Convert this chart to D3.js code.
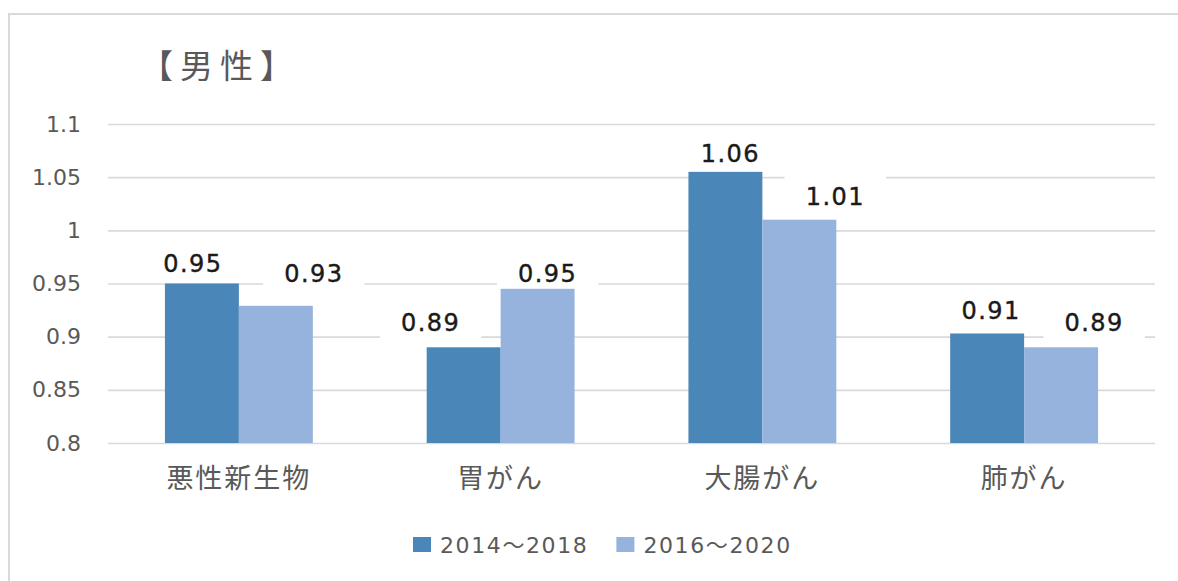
<!DOCTYPE html>
<html>
<head>
<meta charset="utf-8">
<script src="https://cdn.jsdelivr.net/npm/d3@7"></script>
<style>
  html, body { margin: 0; padding: 0; background: #fff; }
</style>
</head>
<body>
<div id="chart"></div>
<script>
const title = "【男性】";
const categories = ["悪性新生物", "胃がん", "大腸がん", "肺がん"];
const seriesNames = ["2014～2018", "2016～2020"];
const values2014 = [0.95, 0.89, 1.055, 0.903];
const values2016 = [0.929, 0.945, 1.01, 0.89];
const labels2014 = ["0.95", "0.89", "1.06", "0.91"];
const labels2016 = ["0.93", "0.95", "1.01", "0.89"];
const tickValues = [0.8, 0.85, 0.9, 0.95, 1, 1.05, 1.1];
const tickLabels = ["0.8", "0.85", "0.9", "0.95", "1", "1.05", "1.1"];

// labels were hand-moved in the original, nudge them the same way (px)
const labelDx = [[-9, -33, 5, 4], [38, 10, 36, 33]];
const labelGap = [[12, 16, 10, 14], [24, 7, 15, 16]];

const colors = ["#4a86b8", "#95b3dc"];
const W = 1178, H = 581;
const margin = { top: 124, right: 23, bottom: 138, left: 108 };
const width = W - margin.left - margin.right;
const height = H - margin.top - margin.bottom;

const svg = d3.select("#chart").append("svg")
    .attr("width", W)
    .attr("height", H)
    .style("display", "block");

svg.append("rect").attr("width", W).attr("height", H).attr("fill", "#fff");

// frame of the chart area
svg.append("path")
    .attr("d", `M9,${H} L9,14 L${W},14`)
    .attr("fill", "none")
    .attr("stroke", "#d9d9d9")
    .attr("stroke-width", 2);

svg.append("text")
    .attr("x", 140)
    .attr("y", 78)
    .style("font-family", "'Noto Sans CJK JP', sans-serif")
    .style("font-size", "33px")
    .style("letter-spacing", "7px")
    .style("fill", "#595959")
    .text(title);

const g = svg.append("g").attr("transform", `translate(${margin.left},${margin.top})`);

const x0 = d3.scaleBand()
    .domain(categories)
    .range([0, width])
    .paddingInner(0.435)
    .paddingOuter(0.2175);

const x1 = d3.scaleBand()
    .domain([0, 1])
    .range([0, x0.bandwidth()]);

const y = d3.scaleLinear()
    .domain([0.8, 1.1])
    .range([height, 0]);

// gridlines + tick labels
const yAxis = g.append("g")
    .call(d3.axisLeft(y).tickValues(tickValues)
        .tickSize(-width).tickPadding(27)
        .tickFormat((d, i) => tickLabels[i]));
yAxis.select(".domain").remove();
yAxis.selectAll(".tick line").attr("stroke", "#d9d9d9").attr("stroke-width", 1.6);
yAxis.selectAll(".tick text")
    .style("font-family", "'DejaVu Sans', sans-serif")
    .style("font-size", "22px")
    .style("fill", "#595959");

const xAxis = g.append("g")
    .attr("transform", `translate(0,${height})`)
    .call(d3.axisBottom(x0).tickSize(0).tickPadding(26));
xAxis.select(".domain").remove();
xAxis.selectAll(".tick text")
    .style("font-family", "'Noto Sans CJK JP', sans-serif")
    .style("font-size", "27px")
    .style("letter-spacing", "2px")
    .style("fill", "#595959");

const series = [values2014, values2016];
const seriesLabels = [labels2014, labels2016];
const rows = [];
series.forEach((vals, s) => {
    vals.forEach((v, i) => {
        rows.push({ s, cat: categories[i], i, value: v, label: seriesLabels[s][i] });
    });
});

const labelX = d => x0(d.cat) + x1(d.s) + x1.bandwidth() / 2 + labelDx[d.s][d.i];
const labelY = d => y(d.value) - labelGap[d.s][d.i];

// white label boxes go under the bars but over the gridlines
const boxes = g.selectAll(".lbox").data(rows).enter().append("rect").attr("class", "lbox");

g.selectAll(".bar")
    .data(rows)
    .enter()
    .append("rect")
    .attr("class", "bar")
    .attr("x", d => x0(d.cat) + x1(d.s))
    .attr("y", d => y(d.value))
    .attr("width", x1.bandwidth())
    .attr("height", d => height - y(d.value))
    .attr("fill", d => colors[d.s]);

const labels = g.selectAll(".label")
    .data(rows)
    .enter()
    .append("text")
    .attr("class", "label")
    .attr("x", labelX)
    .attr("y", labelY)
    .attr("text-anchor", "middle")
    .style("font-family", "'DejaVu Sans', sans-serif")
    .style("font-size", "24px")
    .style("letter-spacing", "1.5px")
    .style("stroke", "#1a1a1a")
    .style("stroke-width", 0.4)
    .style("fill", "#1a1a1a")
    .text(d => d.label);

labels.each(function(d) { d.tw = this.getComputedTextLength(); });
boxes
    .attr("x", d => labelX(d) - d.tw / 2 - 21)
    .attr("y", d => labelY(d) - 17 - 12)
    .attr("width", d => d.tw + 42)
    .attr("height", 17 + 12 + 9)
    .attr("fill", "#fff");

// legend
const legend = svg.append("g").attr("transform", "translate(413,537)");
let lx = 0;
seriesNames.forEach((name, s) => {
    legend.append("rect")
        .attr("x", lx).attr("y", 0)
        .attr("width", 18).attr("height", 15)
        .attr("fill", colors[s]);
    const t = legend.append("text")
        .attr("x", lx + 27).attr("y", 16)
        .style("font-family", "'DejaVu Sans', 'Noto Sans CJK JP', sans-serif")
        .style("font-size", "22px")
        .style("letter-spacing", "1.6px")
        .style("fill", "#595959")
        .text(name);
    lx += 27 + t.node().getComputedTextLength() + 28;
});
</script>
</body>
</html>
